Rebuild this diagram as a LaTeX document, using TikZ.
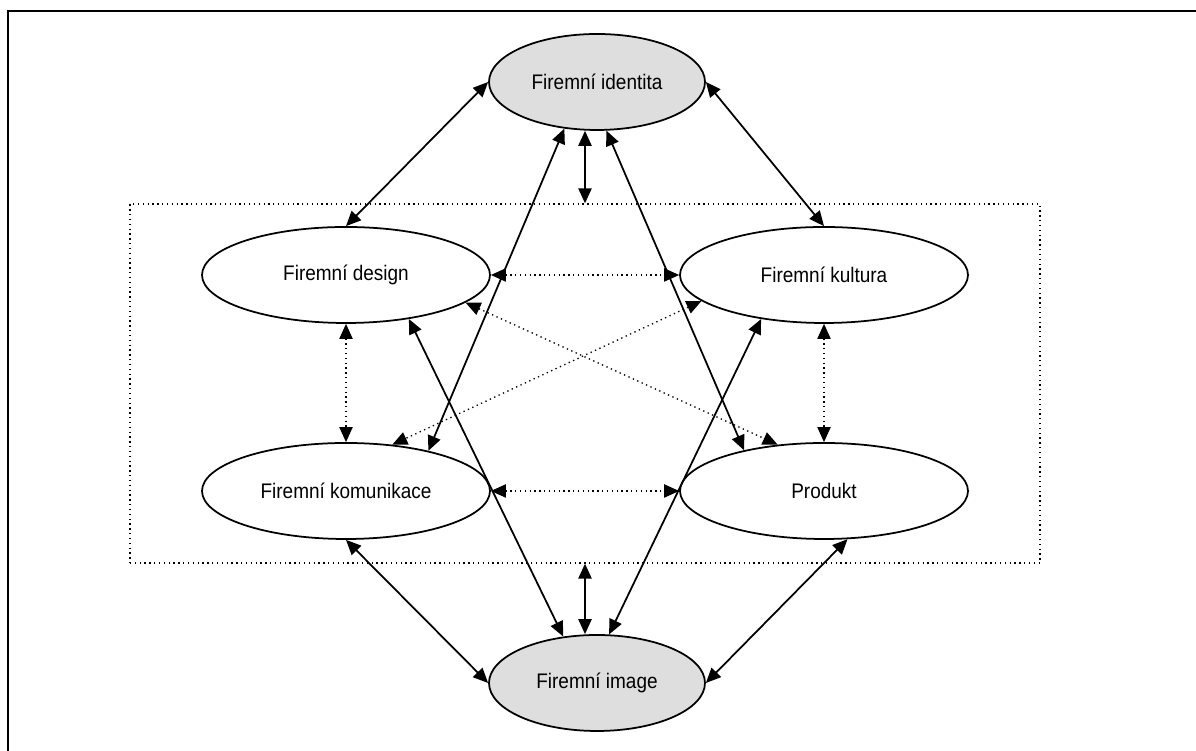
\documentclass[tikz,border=0pt]{standalone}
\usepackage{fontspec}
\setmainfont{Liberation Sans}[FakeStretch=0.9]
\usepackage{tikz}
\usetikzlibrary{arrows.meta, positioning, shapes.geometric, calc}
\definecolor{coreGray}{gray}{0.87}
\tikzset{
    entNode/.style={ellipse, draw=black, line width=1pt, fill=white, inner sep=0pt, minimum width=5.76cm, minimum height=1.92cm, font=\fontsize{12}{14}\selectfont},
    coreNode/.style={entNode, fill=coreGray, minimum width=4.32cm},
    linkLine/.style={<->, line width=1pt},
    dotLink/.style={<->, line width=0.75pt, dotted},
    groupBox/.style={rectangle, draw=black, dotted, line width=0.75pt, inner sep=0pt},
    frameLine/.style={line width=1.1pt}
}

\begin{document}
\begin{tikzpicture}[>={Triangle[length=8.5pt, width=7.5pt]}]

        \useasboundingbox (0,0) rectangle (23.92,15.02);

        % --- Frame ---
        \draw[frameLine] (0.16,-0.2) -- (0.16,14.80) -- (24.2,14.80);

        % --- Coordinates ---
        \coordinate (C1) at (11.94,13.38);
        \coordinate (C2) at (6.92,9.52);
        \coordinate (C3) at (16.48,9.52);
        \coordinate (C4) at (6.92,5.20);
        \coordinate (C5) at (16.48,5.20);
        \coordinate (C6) at (11.94,1.36);

        % --- Group box ---
        \node[groupBox, minimum width=18.2cm, minimum height=7.18cm] (group) at (11.70,7.35) {};

        % --- Nodes ---
        \node[coreNode] (identita) at (C1) {Firemní identita};
        \node[entNode] (design) at (C2) {Firemní design};
        \node[entNode] (kultura) at (C3) {Firemní kultura};
        \node[entNode] (komunikace) at (C4) {Firemní komunikace};
        \node[entNode] (produkt) at (C5) {Produkt};
        \node[coreNode] (image) at (C6) {Firemní image};

        % --- Solid links ---
        \draw[linkLine] (identita.west) -- (design.north);
        \draw[linkLine] (identita.east) -- (kultura.north);
        \draw[linkLine] (komunikace.south) -- (image.west);
        \draw[linkLine] (produkt.-64) -- (image.east);
        \draw[linkLine] (identita.235) -- (komunikace.26);
        \draw[linkLine] (identita.281) -- (produkt.153);
        \draw[linkLine] (design.-35) -- (image.126);
        \draw[linkLine] (kultura.215) -- (image.76);
        \draw[linkLine] (group.north) -- (group.north |- identita.south);
        \draw[linkLine] (group.south) -- (group.south |- image.north);

        % --- Dotted links ---
        \draw[dotLink] (design.east) -- (kultura.west);
        \draw[dotLink] (komunikace.east) -- (produkt.west);
        \draw[dotLink] (design.south) -- (komunikace.north);
        \draw[dotLink] (kultura.south) -- (produkt.north);
        \draw[dotLink] (design.-13) -- (produkt.135);
        \draw[dotLink] (kultura.192) -- (komunikace.45);

\end{tikzpicture}
\end{document}
